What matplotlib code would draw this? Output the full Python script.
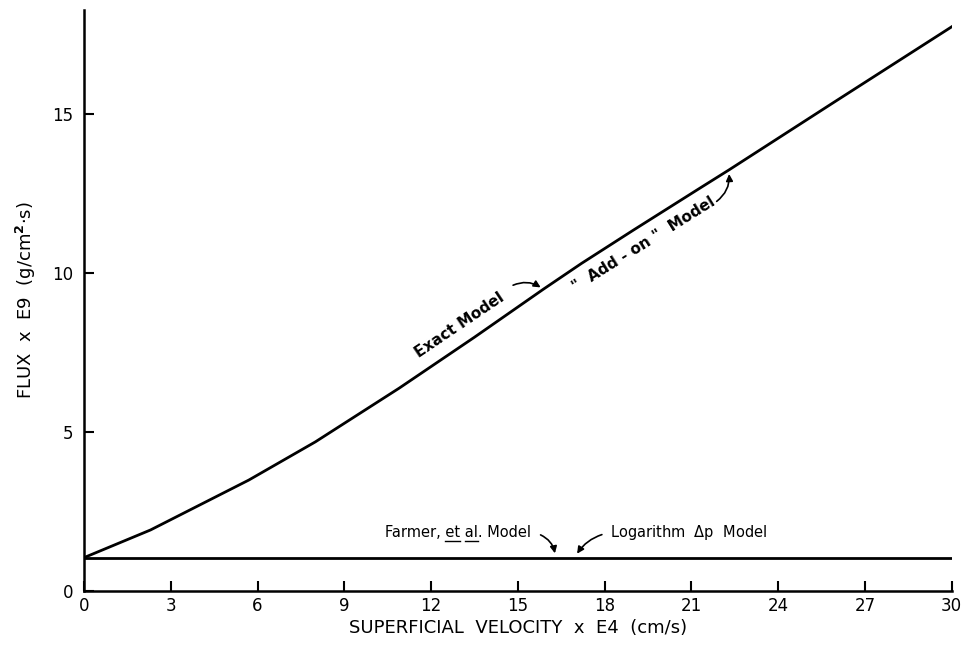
import matplotlib
matplotlib.use('Agg')
import matplotlib.pyplot as plt
from matplotlib.lines import Line2D

# Data
velocity = [0, 2.3, 5.7, 8.0, 10.9, 13.5, 15.9, 17.2, 19.0, 21.3, 22.3, 25.9, 30]
flux_exact = [1.05, 1.92, 3.49, 4.69, 6.38, 7.98, 9.50, 10.30, 11.35, 12.67, 13.24, 15.35, 17.74]
flat_x = [0, 30]
flux_flat = [1.05, 1.05]

x_ticks = [0, 3, 6, 9, 12, 15, 18, 21, 24, 27, 30]
y_ticks = [0, 5, 10, 15]

plt.rcParams['font.family'] = 'DejaVu Sans'

fig = plt.figure(figsize=(9.7, 6.46), dpi=100)
ax = fig.add_axes([0.0866, 0.0851, 0.8944, 0.8994])

ax.plot(velocity, flux_exact, color='black', lw=2.0, solid_joinstyle='round')
ax.plot(flat_x, flux_flat, color='black', lw=2.0)

ax.set_xlim(0, 30)
ax.set_ylim(0, 18.27)
ax.set_xticks(x_ticks)
ax.set_yticks(y_ticks)
ax.tick_params(direction='in', length=7, width=1.5, labelsize=12)
ax.tick_params(axis='x', pad=4)
ax.tick_params(axis='y', pad=8)
for s in ['top', 'right']:
    ax.spines[s].set_visible(False)
for s in ['left', 'bottom']:
    ax.spines[s].set_linewidth(1.8)

ax.set_xlabel('SUPERFICIAL  VELOCITY  x  E4  (cm/s)', fontsize=13, labelpad=3)
ax.set_ylabel(r'FLUX  x  E9  (g/cm$^{\mathbf{2}}$$\cdot$s)', fontsize=13, labelpad=10)

# curve labels
ax.text(13.0, 8.35, 'Exact Model', fontsize=11, fontweight='bold', rotation=34,
        ha='center', va='center', rotation_mode='anchor')
ax.annotate('', xy=(15.87, 9.5), xytext=(14.75, 9.58),
            arrowprops=dict(arrowstyle='-|>', color='black', lw=1.2,
                            connectionstyle='arc3,rad=-0.3', mutation_scale=10))
ax.text(19.35, 10.9, '"  Add - on "  Model', fontsize=11, fontweight='bold', rotation=32,
        ha='center', va='center', rotation_mode='anchor')
ax.annotate('', xy=(22.3, 13.2), xytext=(21.8, 12.2),
            arrowprops=dict(arrowstyle='-|>', color='black', lw=1.2,
                            connectionstyle='arc3,rad=0.3', mutation_scale=10))

t1 = ax.text(10.4, 1.83, 'Farmer, et al. Model', fontsize=10.5, ha='left', va='center')
ax.annotate('', xy=(16.3, 1.1), xytext=(15.7, 1.8),
            arrowprops=dict(arrowstyle='-|>', color='black', lw=1.2,
                            connectionstyle='arc3,rad=-0.3', mutation_scale=10))
ax.text(18.2, 1.83, r'Logarithm  $\Delta$p  Model', fontsize=10.5, ha='left', va='center')
ax.annotate('', xy=(17.0, 1.1), xytext=(18.0, 1.8),
            arrowprops=dict(arrowstyle='-|>', color='black', lw=1.2,
                            connectionstyle='arc3,rad=0.2', mutation_scale=10))

# underline "et" and "al"
fig.canvas.draw()
r = fig.canvas.get_renderer()
def width_of(s):
    tt = ax.text(0, 0, s, fontsize=10.5)
    w = tt.get_window_extent(r).width
    tt.remove()
    return w
bb = t1.get_window_extent(r)
y_ul = bb.y0 - 1
for pre, word in [('Farmer, ', 'et'), ('Farmer, et ', 'al')]:
    x0 = bb.x0 + width_of(pre)
    x1 = x0 + width_of(word)
    fig.add_artist(Line2D([x0 / fig.bbox.width, x1 / fig.bbox.width],
                          [y_ul / fig.bbox.height] * 2, color='black', lw=1.0))

fig.savefig('out.png', dpi=100)
